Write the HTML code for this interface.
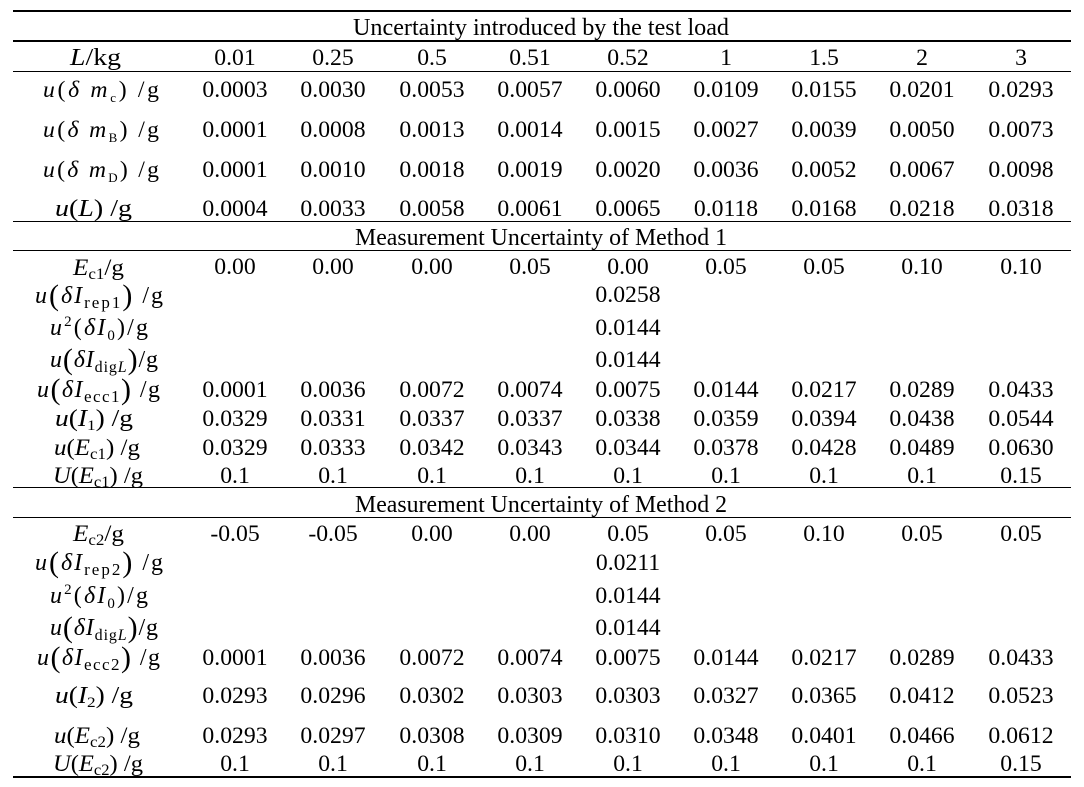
<!DOCTYPE html>
<html>
<head>
<meta charset="utf-8">
<style>
  html,body{margin:0;padding:0;background:#fff;}
  svg{display:block;}
  text{font-family:"Liberation Serif","DejaVu Serif",serif;fill:#000;}
</style>
</head>
<body>
<svg width="1084" height="787" viewBox="0 0 1084 787" xmlns="http://www.w3.org/2000/svg">
<rect x="0" y="0" width="1084" height="787" fill="#fff"/>
<!-- rules -->
<rect x="13" y="10" width="1058" height="2" fill="#000"/>
<rect x="13" y="40" width="1058" height="2" fill="#000"/>
<rect x="13" y="71" width="1058" height="1" fill="#000"/>
<rect x="13" y="221" width="1058" height="1" fill="#000"/>
<rect x="13" y="250" width="1058" height="1" fill="#000"/>
<rect x="13" y="487" width="1058" height="1" fill="#000"/>
<rect x="13" y="517" width="1058" height="1" fill="#000"/>
<rect x="13" y="776" width="1058" height="2" fill="#000"/>

<!-- section titles -->
<text x="353" y="35" font-size="24" textLength="376" lengthAdjust="spacingAndGlyphs">Uncertainty introduced by the test load</text>
<text x="355" y="245" font-size="24" textLength="372" lengthAdjust="spacingAndGlyphs">Measurement Uncertainty of Method 1</text>
<text x="355" y="512" font-size="24" textLength="372" lengthAdjust="spacingAndGlyphs">Measurement Uncertainty of Method 2</text>

<!-- labels -->
<text x="70" y="65" font-size="24" textLength="51" lengthAdjust="spacingAndGlyphs"><tspan font-style="italic">L</tspan>/kg</text>

<text x="43" y="97" font-size="23.7" textLength="116" lengthAdjust="spacing"><tspan font-style="italic">u</tspan>(<tspan font-style="italic">δ m</tspan><tspan font-size="13" dy="5">c</tspan><tspan dy="-5">) /g</tspan></text>
<text x="43" y="137" font-size="23.7" textLength="116" lengthAdjust="spacing"><tspan font-style="italic">u</tspan>(<tspan font-style="italic">δ m</tspan><tspan font-size="13" dy="5">B</tspan><tspan dy="-5">) /g</tspan></text>
<text x="43" y="177" font-size="23.7" textLength="116" lengthAdjust="spacing"><tspan font-style="italic">u</tspan>(<tspan font-style="italic">δ m</tspan><tspan font-size="13" dy="5">D</tspan><tspan dy="-5">) /g</tspan></text>
<text x="55" y="216" font-size="24" textLength="77" lengthAdjust="spacingAndGlyphs"><tspan font-style="italic">u</tspan>(<tspan font-style="italic">L</tspan>) /g</text>

<text x="73" y="275" font-size="23.7" textLength="51" lengthAdjust="spacingAndGlyphs"><tspan font-style="italic">E</tspan><tspan font-size="16" dy="4">c1</tspan><tspan dy="-4">/g</tspan></text>
<text x="35" y="303" font-size="24" textLength="128" lengthAdjust="spacing"><tspan font-style="italic">u</tspan><tspan font-size="30" dy="2">(</tspan><tspan font-style="italic" dy="-2">δI</tspan><tspan font-size="17" dy="5">rep1</tspan><tspan font-size="30" dy="-3">)</tspan><tspan dy="-2"> /g</tspan></text>
<text x="50" y="335" font-size="24" textLength="98" lengthAdjust="spacing"><tspan font-style="italic">u</tspan><tspan font-size="15" dy="-9">2</tspan><tspan dy="9">(</tspan><tspan font-style="italic">δI</tspan><tspan font-size="15" dy="5">0</tspan><tspan dy="-5">)/g</tspan></text>
<text x="50" y="367" font-size="24" textLength="108" lengthAdjust="spacing"><tspan font-style="italic">u</tspan><tspan font-size="30" dy="2">(</tspan><tspan font-style="italic" dy="-2">δI</tspan><tspan font-size="16" dy="5">dig</tspan><tspan font-size="16" font-style="italic">L</tspan><tspan font-size="30" dy="-3">)</tspan><tspan dy="-2">/g</tspan></text>
<text x="37" y="397" font-size="24" textLength="123" lengthAdjust="spacing"><tspan font-style="italic">u</tspan><tspan font-size="30" dy="2">(</tspan><tspan font-style="italic" dy="-2">δI</tspan><tspan font-size="17" dy="5">ecc1</tspan><tspan font-size="30" dy="-3">)</tspan><tspan dy="-2"> /g</tspan></text>
<text x="55" y="426" font-size="24" textLength="78" lengthAdjust="spacingAndGlyphs"><tspan font-style="italic">u</tspan>(<tspan font-style="italic">I</tspan><tspan font-size="15" dy="4">1</tspan><tspan dy="-4">) /g</tspan></text>
<text x="54" y="455" font-size="23.7" textLength="86" lengthAdjust="spacingAndGlyphs"><tspan font-style="italic">u</tspan>(<tspan font-style="italic">E</tspan><tspan font-size="16" dy="4">c1</tspan><tspan dy="-4">) /g</tspan></text>
<text x="53" y="483" font-size="23.7" textLength="90" lengthAdjust="spacingAndGlyphs"><tspan font-style="italic">U</tspan>(<tspan font-style="italic">E</tspan><tspan font-size="16" dy="4">c1</tspan><tspan dy="-4">) /g</tspan></text>

<text x="73" y="541" font-size="23.7" textLength="51" lengthAdjust="spacingAndGlyphs"><tspan font-style="italic">E</tspan><tspan font-size="16" dy="4">c2</tspan><tspan dy="-4">/g</tspan></text>
<text x="35" y="570" font-size="24" textLength="128" lengthAdjust="spacing"><tspan font-style="italic">u</tspan><tspan font-size="30" dy="2">(</tspan><tspan font-style="italic" dy="-2">δI</tspan><tspan font-size="17" dy="5">rep2</tspan><tspan font-size="30" dy="-3">)</tspan><tspan dy="-2"> /g</tspan></text>
<text x="50" y="603" font-size="24" textLength="98" lengthAdjust="spacing"><tspan font-style="italic">u</tspan><tspan font-size="15" dy="-9">2</tspan><tspan dy="9">(</tspan><tspan font-style="italic">δI</tspan><tspan font-size="15" dy="5">0</tspan><tspan dy="-5">)/g</tspan></text>
<text x="50" y="635" font-size="24" textLength="108" lengthAdjust="spacing"><tspan font-style="italic">u</tspan><tspan font-size="30" dy="2">(</tspan><tspan font-style="italic" dy="-2">δI</tspan><tspan font-size="16" dy="5">dig</tspan><tspan font-size="16" font-style="italic">L</tspan><tspan font-size="30" dy="-3">)</tspan><tspan dy="-2">/g</tspan></text>
<text x="37" y="665" font-size="24" textLength="123" lengthAdjust="spacing"><tspan font-style="italic">u</tspan><tspan font-size="30" dy="2">(</tspan><tspan font-style="italic" dy="-2">δI</tspan><tspan font-size="17" dy="5">ecc2</tspan><tspan font-size="30" dy="-3">)</tspan><tspan dy="-2"> /g</tspan></text>
<text x="55" y="703" font-size="24" textLength="78" lengthAdjust="spacingAndGlyphs"><tspan font-style="italic">u</tspan>(<tspan font-style="italic">I</tspan><tspan font-size="15" dy="4">2</tspan><tspan dy="-4">) /g</tspan></text>
<text x="54" y="743" font-size="23.7" textLength="86" lengthAdjust="spacingAndGlyphs"><tspan font-style="italic">u</tspan>(<tspan font-style="italic">E</tspan><tspan font-size="16" dy="4">c2</tspan><tspan dy="-4">) /g</tspan></text>
<text x="53" y="771" font-size="23.7" textLength="90" lengthAdjust="spacingAndGlyphs"><tspan font-style="italic">U</tspan>(<tspan font-style="italic">E</tspan><tspan font-size="16" dy="4">c2</tspan><tspan dy="-4">) /g</tspan></text>

<!-- numeric data -->
<g font-size="23.7" text-anchor="middle">
<text y="65"><tspan x="235">0.01</tspan><tspan x="333">0.25</tspan><tspan x="432">0.5</tspan><tspan x="530">0.51</tspan><tspan x="628">0.52</tspan><tspan x="726">1</tspan><tspan x="824">1.5</tspan><tspan x="922">2</tspan><tspan x="1021">3</tspan></text>
<text y="97"><tspan x="235">0.0003</tspan><tspan x="333">0.0030</tspan><tspan x="432">0.0053</tspan><tspan x="530">0.0057</tspan><tspan x="628">0.0060</tspan><tspan x="726">0.0109</tspan><tspan x="824">0.0155</tspan><tspan x="922">0.0201</tspan><tspan x="1021">0.0293</tspan></text>
<text y="137"><tspan x="235">0.0001</tspan><tspan x="333">0.0008</tspan><tspan x="432">0.0013</tspan><tspan x="530">0.0014</tspan><tspan x="628">0.0015</tspan><tspan x="726">0.0027</tspan><tspan x="824">0.0039</tspan><tspan x="922">0.0050</tspan><tspan x="1021">0.0073</tspan></text>
<text y="177"><tspan x="235">0.0001</tspan><tspan x="333">0.0010</tspan><tspan x="432">0.0018</tspan><tspan x="530">0.0019</tspan><tspan x="628">0.0020</tspan><tspan x="726">0.0036</tspan><tspan x="824">0.0052</tspan><tspan x="922">0.0067</tspan><tspan x="1021">0.0098</tspan></text>
<text y="216"><tspan x="235">0.0004</tspan><tspan x="333">0.0033</tspan><tspan x="432">0.0058</tspan><tspan x="530">0.0061</tspan><tspan x="628">0.0065</tspan><tspan x="726">0.0118</tspan><tspan x="824">0.0168</tspan><tspan x="922">0.0218</tspan><tspan x="1021">0.0318</tspan></text>

<text y="274"><tspan x="235">0.00</tspan><tspan x="333">0.00</tspan><tspan x="432">0.00</tspan><tspan x="530">0.05</tspan><tspan x="628">0.00</tspan><tspan x="726">0.05</tspan><tspan x="824">0.05</tspan><tspan x="922">0.10</tspan><tspan x="1021">0.10</tspan></text>
<text x="628" y="302">0.0258</text>
<text x="628" y="335">0.0144</text>
<text x="628" y="367">0.0144</text>
<text y="397"><tspan x="235">0.0001</tspan><tspan x="333">0.0036</tspan><tspan x="432">0.0072</tspan><tspan x="530">0.0074</tspan><tspan x="628">0.0075</tspan><tspan x="726">0.0144</tspan><tspan x="824">0.0217</tspan><tspan x="922">0.0289</tspan><tspan x="1021">0.0433</tspan></text>
<text y="426"><tspan x="235">0.0329</tspan><tspan x="333">0.0331</tspan><tspan x="432">0.0337</tspan><tspan x="530">0.0337</tspan><tspan x="628">0.0338</tspan><tspan x="726">0.0359</tspan><tspan x="824">0.0394</tspan><tspan x="922">0.0438</tspan><tspan x="1021">0.0544</tspan></text>
<text y="455"><tspan x="235">0.0329</tspan><tspan x="333">0.0333</tspan><tspan x="432">0.0342</tspan><tspan x="530">0.0343</tspan><tspan x="628">0.0344</tspan><tspan x="726">0.0378</tspan><tspan x="824">0.0428</tspan><tspan x="922">0.0489</tspan><tspan x="1021">0.0630</tspan></text>
<text y="483"><tspan x="235">0.1</tspan><tspan x="333">0.1</tspan><tspan x="432">0.1</tspan><tspan x="530">0.1</tspan><tspan x="628">0.1</tspan><tspan x="726">0.1</tspan><tspan x="824">0.1</tspan><tspan x="922">0.1</tspan><tspan x="1021">0.15</tspan></text>

<text y="541"><tspan x="235">-0.05</tspan><tspan x="333">-0.05</tspan><tspan x="432">0.00</tspan><tspan x="530">0.00</tspan><tspan x="628">0.05</tspan><tspan x="726">0.05</tspan><tspan x="824">0.10</tspan><tspan x="922">0.05</tspan><tspan x="1021">0.05</tspan></text>
<text x="628" y="570">0.0211</text>
<text x="628" y="603">0.0144</text>
<text x="628" y="635">0.0144</text>
<text y="665"><tspan x="235">0.0001</tspan><tspan x="333">0.0036</tspan><tspan x="432">0.0072</tspan><tspan x="530">0.0074</tspan><tspan x="628">0.0075</tspan><tspan x="726">0.0144</tspan><tspan x="824">0.0217</tspan><tspan x="922">0.0289</tspan><tspan x="1021">0.0433</tspan></text>
<text y="703"><tspan x="235">0.0293</tspan><tspan x="333">0.0296</tspan><tspan x="432">0.0302</tspan><tspan x="530">0.0303</tspan><tspan x="628">0.0303</tspan><tspan x="726">0.0327</tspan><tspan x="824">0.0365</tspan><tspan x="922">0.0412</tspan><tspan x="1021">0.0523</tspan></text>
<text y="743"><tspan x="235">0.0293</tspan><tspan x="333">0.0297</tspan><tspan x="432">0.0308</tspan><tspan x="530">0.0309</tspan><tspan x="628">0.0310</tspan><tspan x="726">0.0348</tspan><tspan x="824">0.0401</tspan><tspan x="922">0.0466</tspan><tspan x="1021">0.0612</tspan></text>
<text y="771"><tspan x="235">0.1</tspan><tspan x="333">0.1</tspan><tspan x="432">0.1</tspan><tspan x="530">0.1</tspan><tspan x="628">0.1</tspan><tspan x="726">0.1</tspan><tspan x="824">0.1</tspan><tspan x="922">0.1</tspan><tspan x="1021">0.15</tspan></text>
</g>
</svg>
</body>
</html>
